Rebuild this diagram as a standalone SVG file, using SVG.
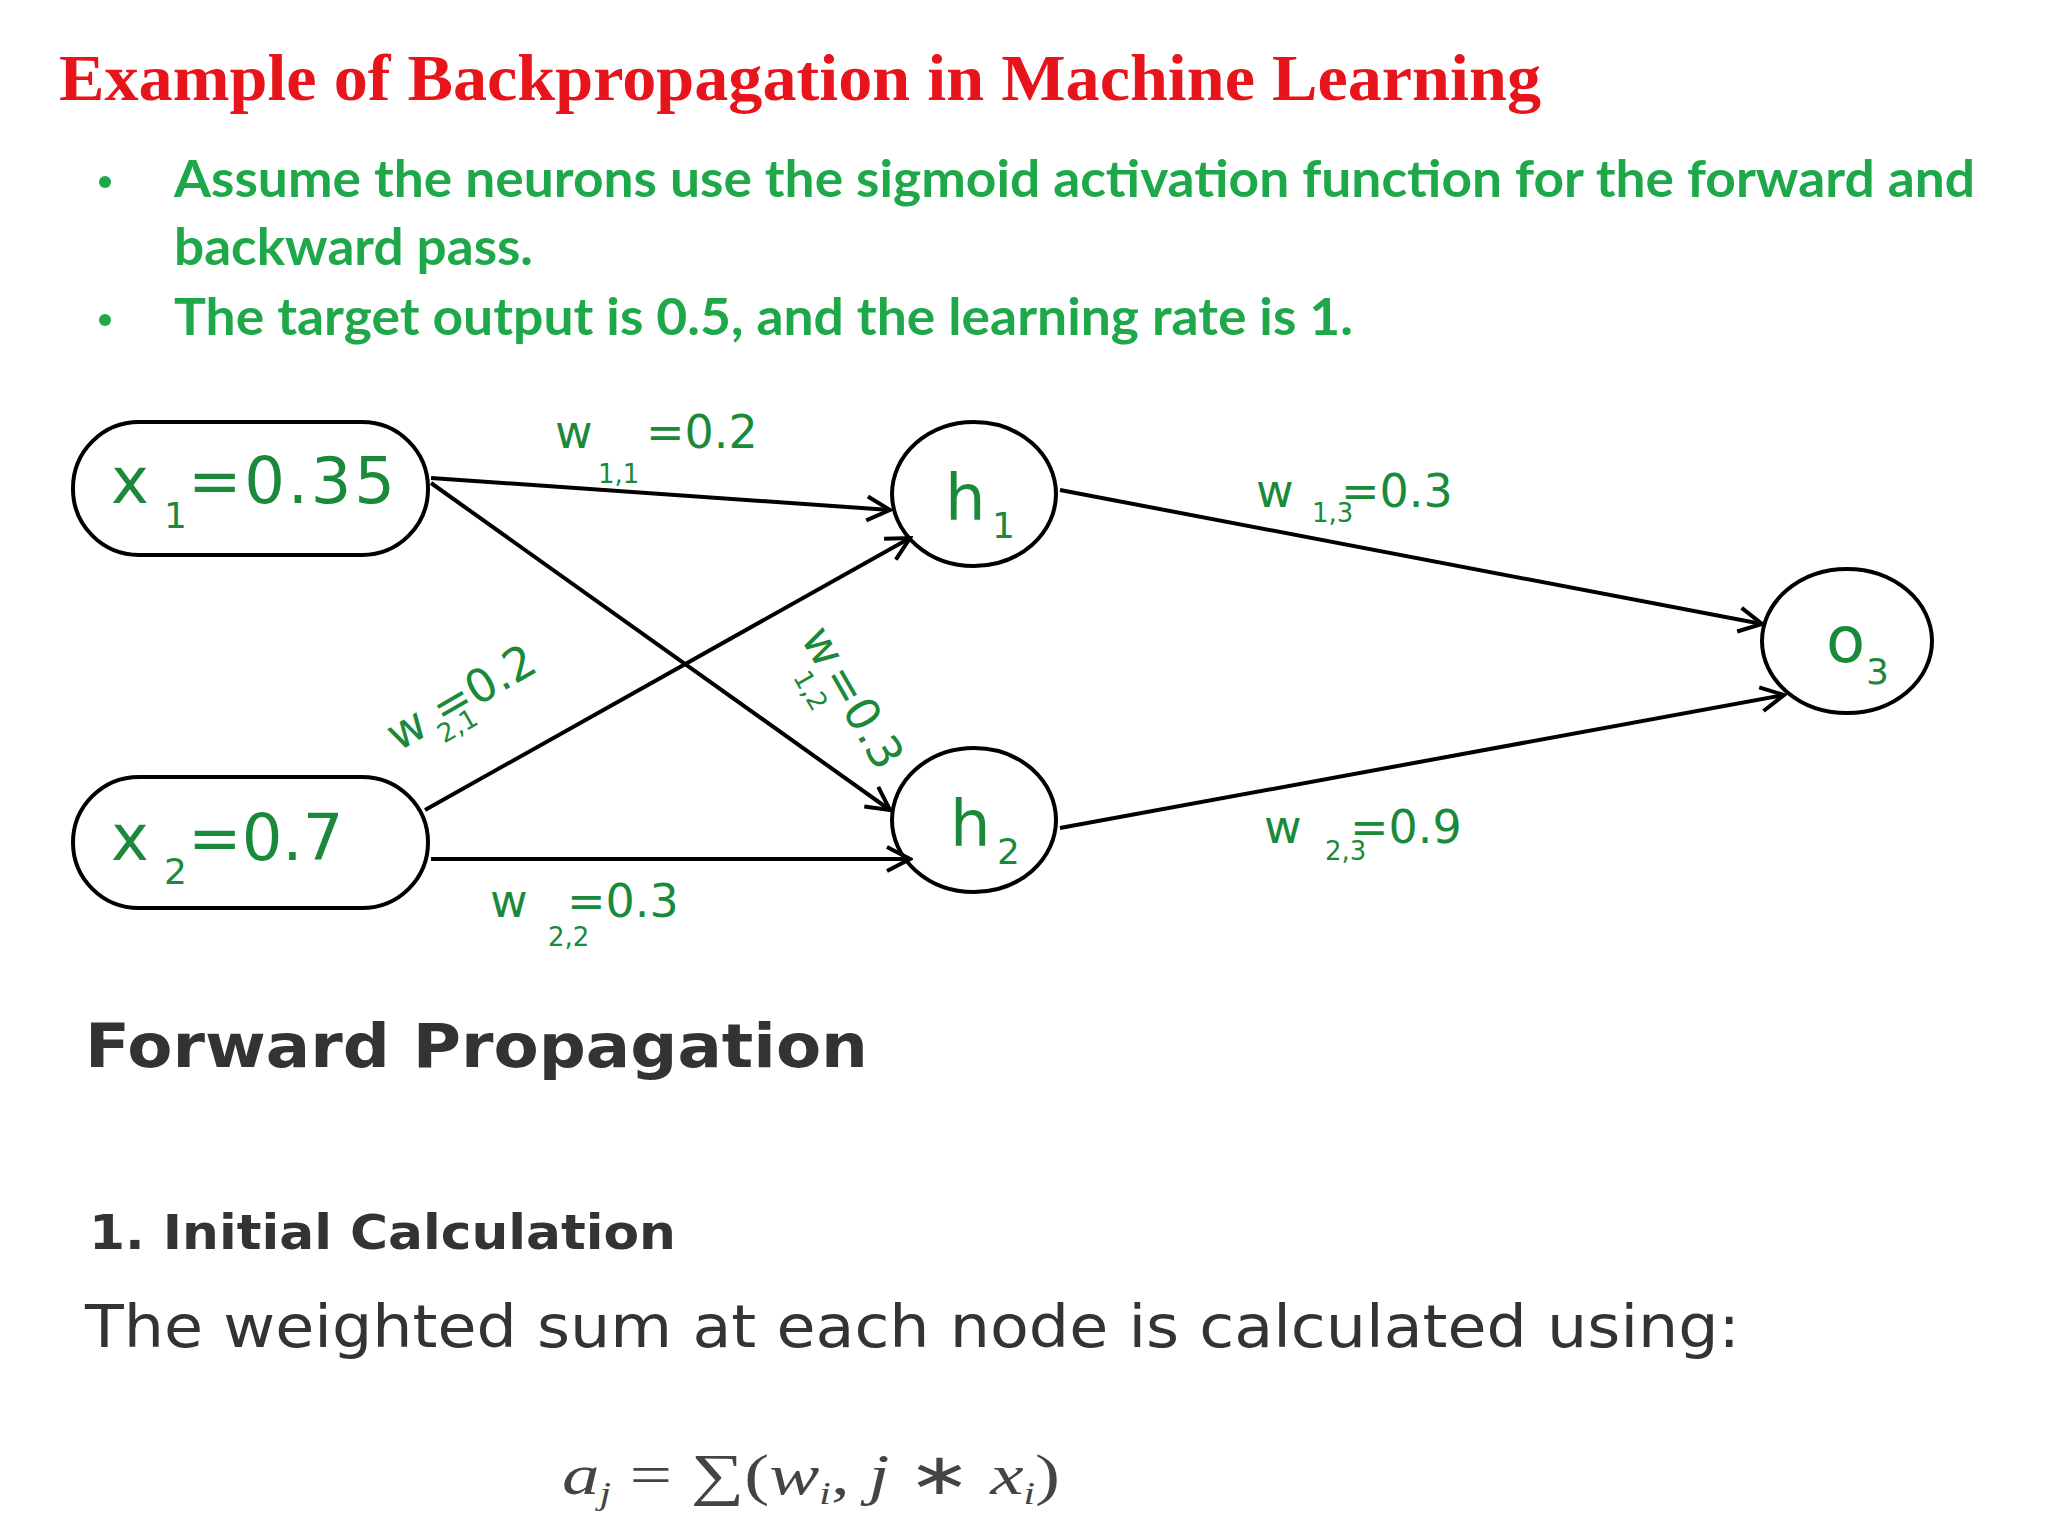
<svg xmlns="http://www.w3.org/2000/svg" width="2048" height="1536" viewBox="0 0 2048 1536">
<style>
.g{fill:#1fa84a;font-family:Lato,"Liberation Sans",sans-serif;font-weight:bold;font-size:52px}
.n{fill:none;stroke:#000;stroke-width:4}
.nl{fill:#1a8a3a;font-family:"DejaVu Sans",sans-serif;font-size:64px}
.ns{fill:#1a8a3a;font-family:"DejaVu Sans",sans-serif;font-size:36px}
.wl{fill:#1a8a3a;font-family:"DejaVu Sans",sans-serif;font-size:46px}
.ws{fill:#1a8a3a;font-family:"DejaVu Sans",sans-serif;font-size:26px}
.e{stroke:#000;stroke-width:4;fill:none;marker-end:url(#b)}
.d{fill:#333;font-family:"DejaVu Sans",sans-serif}
</style>
<defs><marker id="b" viewBox="0 0 30 30" refX="27" refY="15" markerWidth="30" markerHeight="30" markerUnits="userSpaceOnUse" orient="auto"><path d="M4,3 L27,15 L4,27" fill="none" stroke="#000" stroke-width="4"/></marker></defs>
<rect width="2048" height="1536" fill="#fff"/>
<text x="59" y="100" fill="#e8141b" font-family="Liberation Serif,serif" font-weight="bold" font-size="66" textLength="1482" lengthAdjust="spacingAndGlyphs">Example of Backpropagation in Machine Learning</text>
<circle cx="105" cy="182" r="6" fill="#1fa84a"/>
<circle cx="105" cy="320" r="6" fill="#1fa84a"/>
<text class="g" x="174" y="197" textLength="1801" lengthAdjust="spacingAndGlyphs">Assume the neurons use the sigmoid activation function for the forward and</text>
<text class="g" x="174" y="265" textLength="359" lengthAdjust="spacingAndGlyphs">backward pass.</text>
<text class="g" x="174" y="335" textLength="1179" lengthAdjust="spacingAndGlyphs">The target output is 0.5, and the learning rate is 1.</text>
<g id="connectors">
<line class="e" x1="431" y1="478" x2="890" y2="510"/>
<line class="e" x1="431" y1="483" x2="890" y2="810"/>
<line class="e" x1="425" y1="810" x2="910" y2="538"/>
<line class="e" x1="431" y1="859" x2="910" y2="859"/>
<line class="e" x1="1060" y1="490" x2="1762" y2="624"/>
<line class="e" x1="1060" y1="828" x2="1784" y2="695"/>
<text class="wl" x="555" y="448">w</text><text class="wl" x="646" y="448">=0.2</text><text class="ws" x="598" y="483">1,1</text>
<text class="wl" x="1256" y="507">w</text><text class="ws" x="1312" y="522">1,3</text><text class="wl" x="1341" y="507">=0.3</text>
<text class="wl" x="1264" y="843">w</text><text class="ws" x="1325" y="860">2,3</text><text class="wl" x="1350" y="843">=0.9</text>
<text class="wl" x="490" y="917">w</text><text class="wl" x="567" y="917">=0.3</text><text class="ws" x="548" y="946">2,2</text>
<g transform="translate(398,752) rotate(-30)"><text class="wl" x="0" y="0">w</text><text class="ws" x="44" y="16">2,1</text><text class="wl" x="52" y="0">=0.2</text></g>
<g transform="translate(800,638) rotate(60)"><text class="wl" x="0" y="0">w</text><text class="ws" x="30" y="26">1,2</text><text class="wl" x="44" y="0">=0.3</text></g>
</g>
<g id="x1"><rect class="n" x="73" y="422" width="355" height="133" rx="66"/><text class="nl" x="111" y="503">x</text><text class="ns" x="164" y="528">1</text><text class="nl" x="188" y="503" textLength="207">=0.35</text></g>
<g id="x2"><rect class="n" x="73" y="777" width="355" height="131" rx="66"/><text class="nl" x="111" y="860">x</text><text class="ns" x="164" y="884">2</text><text class="nl" x="188" y="860">=0.7</text></g>
<g id="h1"><ellipse class="n" cx="974" cy="494" rx="82" ry="72"/><text class="nl" x="945" y="520">h</text><text class="ns" x="992" y="538">1</text></g>
<g id="h2"><ellipse class="n" cx="974" cy="820" rx="82" ry="72"/><text class="nl" x="950" y="846">h</text><text class="ns" x="997" y="864">2</text></g>
<g id="o3"><ellipse class="n" cx="1847" cy="641" rx="85" ry="72"/><text class="nl" x="1826" y="662">o</text><text class="ns" x="1866" y="684">3</text></g>
<text class="d" x="85" y="1067" font-size="60" font-weight="bold" textLength="783" lengthAdjust="spacingAndGlyphs">Forward Propagation</text>
<text class="d" x="89" y="1249" font-size="48" font-weight="bold" textLength="587" lengthAdjust="spacingAndGlyphs">1. Initial Calculation</text>
<text class="d" x="85" y="1347" font-size="58" fill="#444" textLength="1655" lengthAdjust="spacingAndGlyphs">The weighted sum at each node is calculated using:</text>
<text x="562" y="1494" font-family="Liberation Serif,serif" font-size="58" fill="#444" textLength="498" lengthAdjust="spacingAndGlyphs"><tspan font-style="italic">a</tspan><tspan font-size="32" font-style="italic" dy="10">j</tspan><tspan dy="-10"> = ∑(</tspan><tspan font-style="italic">w</tspan><tspan font-size="32" font-style="italic" dy="10">i</tspan><tspan dy="-10">, </tspan><tspan font-style="italic">j</tspan><tspan> ∗ </tspan><tspan font-style="italic">x</tspan><tspan font-size="32" font-style="italic" dy="10">i</tspan><tspan dy="-10">)</tspan></text>
</svg>
